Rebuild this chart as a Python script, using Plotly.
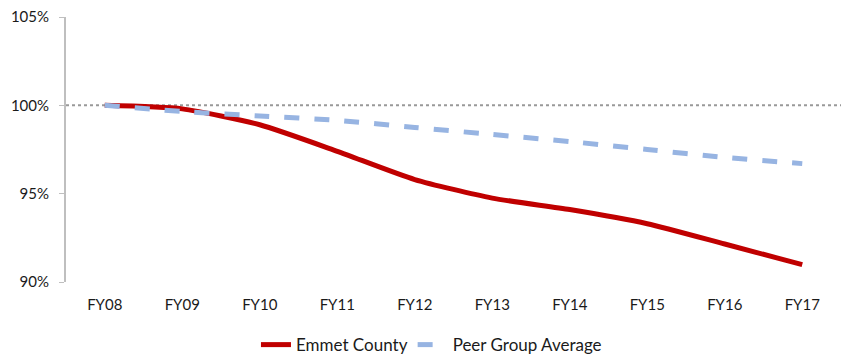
import plotly.graph_objects as go

years = ["FY08", "FY09", "FY10", "FY11", "FY12", "FY13", "FY14", "FY15", "FY16", "FY17"]
emmet = [100.0, 99.8, 98.9, 97.4, 95.8, 94.75, 94.1, 93.3, 92.15, 90.98]
peer = [100.0, 99.65, 99.4, 99.15, 98.75, 98.35, 97.95, 97.5, 97.05, 96.7]
yticks = [90, 95, 100, 105]
ytick_labels = ["90%", "95%", "100%", "105%"]

fig = go.Figure()
fig.add_trace(go.Scatter(x=years, y=emmet, mode="lines", name="Emmet County",
                         line=dict(color="#C00000", width=5, shape="spline", smoothing=0.6)))
fig.add_trace(go.Scatter(x=years, y=peer, mode="lines", name="Peer Group Average",
                         line=dict(color="#97B4E2", width=5, dash="dash", shape="spline", smoothing=0.6)))

fig.add_shape(type="line", xref="paper", x0=0, x1=1, yref="y", y0=100, y1=100,
              line=dict(color="#999999", width=2, dash="dot"), layer="below")

fig.update_layout(
    width=846, height=355,
    margin=dict(l=66, r=5, t=17, b=73, autoexpand=False),
    plot_bgcolor="white", paper_bgcolor="white",
    font=dict(family="Lato, Liberation Sans, sans-serif", size=15, color="#1a1a1a"),
    showlegend=True,
    legend=dict(orientation="h", x=0.51, xanchor="center", xref="container",
                y=0.028, yanchor="middle", yref="container",
                font=dict(size=17), itemwidth=30, tracegroupgap=0),
    xaxis=dict(showgrid=False, showline=False, ticks="", zeroline=False, automargin=False,
               range=[-0.5, 9.5], tickfont=dict(size=15), ticklabelstandoff=12),
    yaxis=dict(range=[90, 105], tickvals=yticks, ticktext=ytick_labels, automargin=False,
               showgrid=False, zeroline=False, showline=True, linecolor="#BFBFBF",
               linewidth=2, ticks="outside", tickcolor="#BFBFBF", ticklen=5,
               ticklabelstandoff=7, tickfont=dict(size=15)),
)

fig.write_html("out.html", config={"displayModeBar": False},
               post_script="document.body.style.margin='0';document.body.style.overflow='hidden';")
